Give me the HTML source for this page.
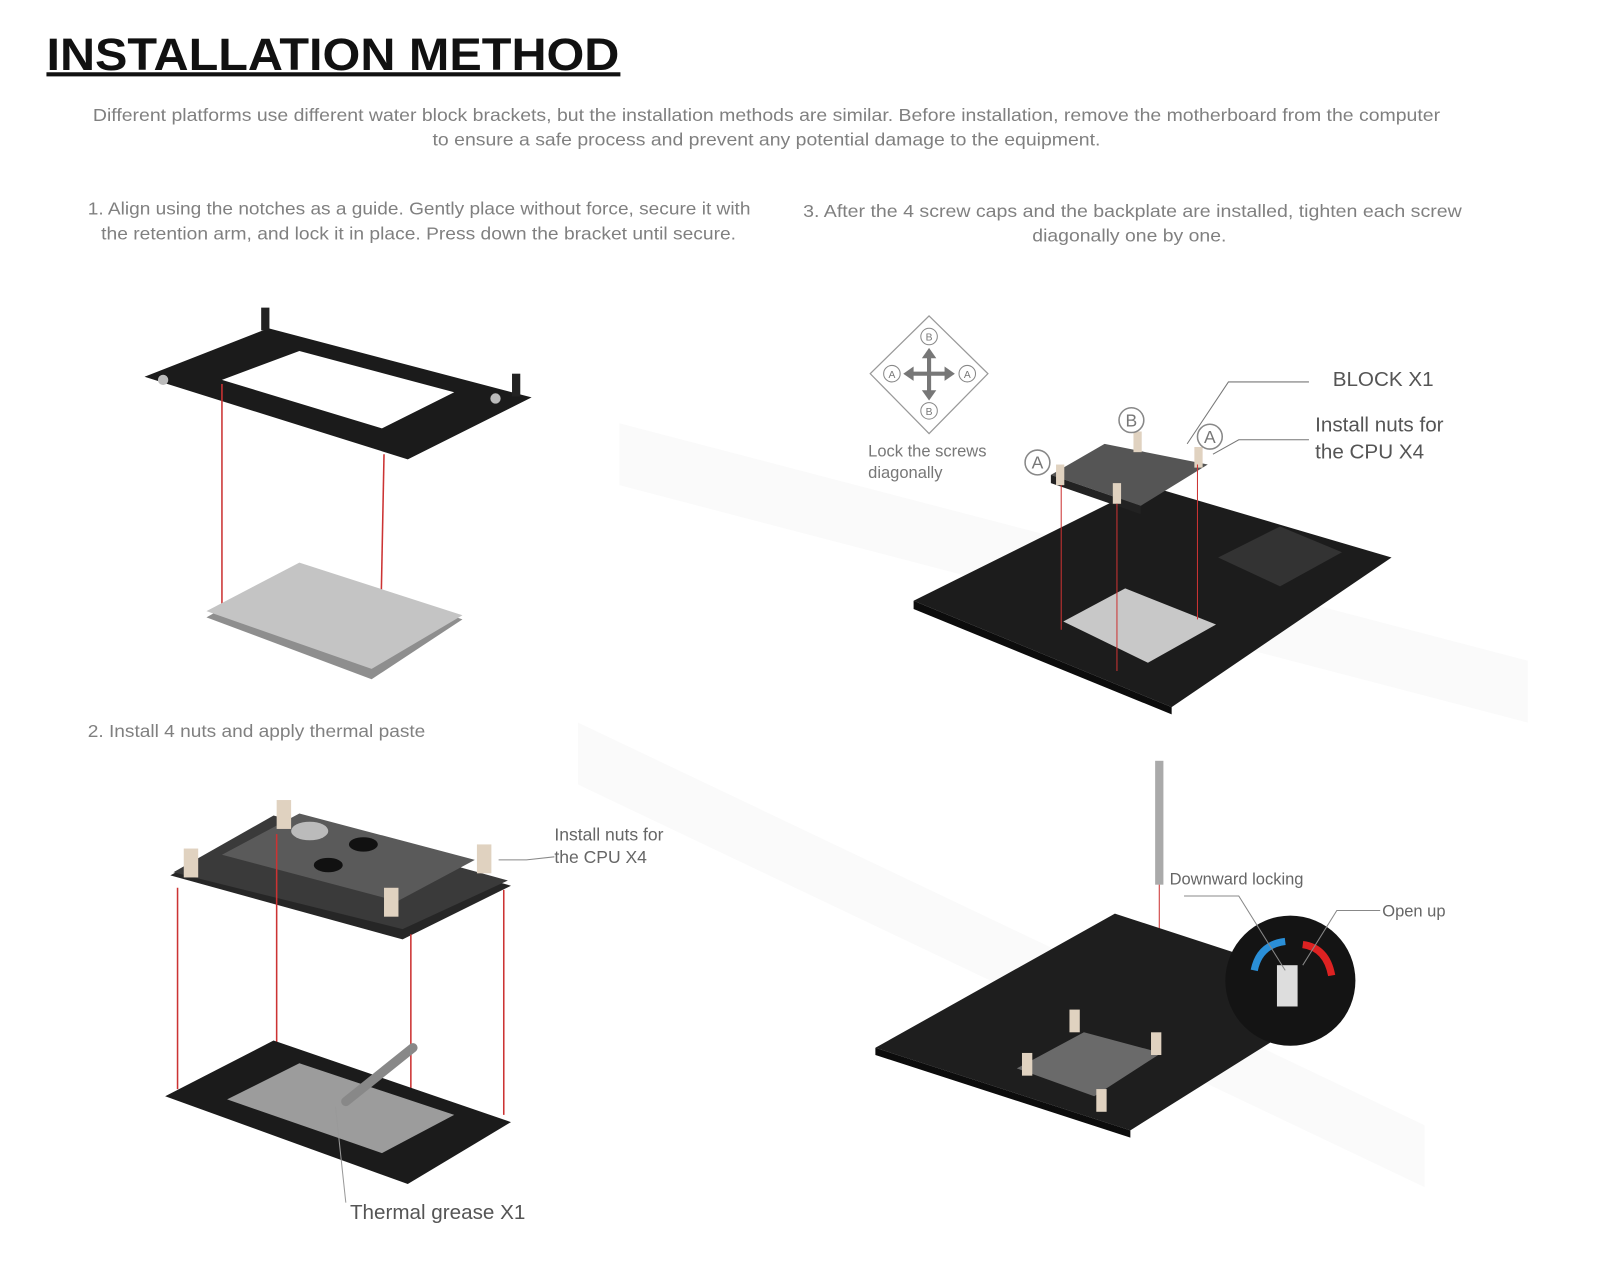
<!DOCTYPE html>
<html><head><meta charset="utf-8"><style>
html,body{margin:0;padding:0;background:#fff;width:1600px;height:1280px;overflow:hidden}
svg{display:block}
text{font-family:"Liberation Sans",sans-serif}
</style></head><body>
<svg width="1600" height="1280" viewBox="0 0 1600 1280">
<g transform="scale(1.0323)">
<!-- faint watermark -->
<g fill="#fafafa">
<polygon points="600,410 1480,640 1480,700 600,470"/>
<polygon points="560,700 1380,1090 1380,1150 560,760"/>
</g>
<!-- title -->
<text x="45" y="68" font-size="44" font-weight="bold" fill="#111" textLength="555" lengthAdjust="spacingAndGlyphs">INSTALLATION METHOD</text>
<rect x="45" y="70" width="556" height="4" fill="#111"/>
<g font-size="17" fill="#808080" lengthAdjust="spacingAndGlyphs">
<text x="90" y="117" textLength="1305" lengthAdjust="spacingAndGlyphs">Different platforms use different water block brackets, but the installation methods are similar. Before installation, remove the motherboard from the computer</text>
<text x="419" y="141" textLength="647" lengthAdjust="spacingAndGlyphs">to ensure a safe process and prevent any potential damage to the equipment.</text>
<text x="85" y="208" textLength="642" lengthAdjust="spacingAndGlyphs">1. Align using the notches as a guide. Gently place without force, secure it with</text>
<text x="98" y="232" textLength="615" lengthAdjust="spacingAndGlyphs">the retention arm, and lock it in place. Press down the bracket until secure.</text>
<text x="778" y="210" textLength="638" lengthAdjust="spacingAndGlyphs">3. After the 4 screw caps and the backplate are installed, tighten each screw</text>
<text x="1000" y="234" textLength="188" lengthAdjust="spacingAndGlyphs">diagonally one by one.</text>
<text x="85" y="714" textLength="327" lengthAdjust="spacingAndGlyphs">2. Install 4 nuts and apply thermal paste</text>
</g>

<!-- step1 bracket -->
<path d="M140,365 L260,318 L515,385 L395,445 Z M215,368 L290,340 L440,380 L370,415 Z" fill="#1b1b1b" fill-rule="evenodd"/>
<rect x="253" y="298" width="8" height="22" fill="#222"/>
<rect x="496" y="362" width="8" height="22" fill="#222"/>
<circle cx="158" cy="368" r="5" fill="#bbb"/><circle cx="480" cy="386" r="5" fill="#bbb"/>
<line x1="215" y1="372" x2="215" y2="600" stroke="#c33" stroke-width="1.5"/>
<line x1="372" y1="440" x2="368" y2="645" stroke="#c33" stroke-width="1.5"/>
<!-- cpu plate -->
<polygon points="200,598 290,547 448,600 360,658" fill="#8e8e8e"/>
<polygon points="200,592 290,545 448,596 360,648" fill="#c4c4c4"/>

<!-- step2 block -->
<polygon points="165,848 265,793 495,858 390,910" fill="#262626"/>
<polygon points="168,845 265,790 492,853 390,900" fill="#3a3a3a"/>
<polygon points="215,828 290,788 460,833 385,873" fill="#5a5a5a"/>
<ellipse cx="300" cy="805" rx="18" ry="9" fill="#bbb"/>
<ellipse cx="352" cy="818" rx="14" ry="7" fill="#111"/>
<ellipse cx="318" cy="838" rx="14" ry="7" fill="#111"/>
<g fill="#e0d2c0"><rect x="178" y="822" width="14" height="28"/><rect x="268" y="775" width="14" height="28"/><rect x="462" y="818" width="14" height="28"/><rect x="372" y="860" width="14" height="28"/></g>
<g stroke="#c33" stroke-width="1.5">
<line x1="172" y1="860" x2="172" y2="1055"/><line x1="268" y1="808" x2="268" y2="1010"/><line x1="398" y1="905" x2="398" y2="1140"/><line x1="488" y1="862" x2="488" y2="1080"/></g>
<polygon points="160,1062 265,1008 495,1087 395,1147" fill="#1b1b1b"/>
<polygon points="220,1065 290,1030 440,1080 370,1117" fill="#9c9c9c"/>
<line x1="400" y1="1015" x2="335" y2="1067" stroke="#888" stroke-width="9" stroke-linecap="round"/>
<line x1="325" y1="1072" x2="335" y2="1165" stroke="#999" stroke-width="1"/>
<text x="537" y="814" font-size="17" fill="#666">Install nuts for</text>
<text x="537" y="836" font-size="17" fill="#666">the CPU X4</text>
<polyline points="483,833 510,833 537,830" fill="none" stroke="#888"/>
<text x="339" y="1181" font-size="20" fill="#555">Thermal grease X1</text>

<!-- step3 -->
<polygon points="900,306 957,362 900,420 843,362" fill="none" stroke="#999" stroke-width="1.2"/>
<g fill="none" stroke="#888"><circle cx="900" cy="326" r="8"/><circle cx="900" cy="398" r="8"/><circle cx="864" cy="362" r="8"/><circle cx="937" cy="362" r="8"/></g>
<g font-size="10" fill="#777" text-anchor="middle"><text x="900" y="330">B</text><text x="900" y="402">B</text><text x="864" y="366">A</text><text x="937" y="366">A</text></g>
<g stroke="#777" stroke-width="4"><line x1="900" y1="345" x2="900" y2="380"/><line x1="882" y1="362" x2="918" y2="362"/></g>
<g fill="#777"><polygon points="900,337 893,347 907,347"/><polygon points="900,388 893,378 907,378"/><polygon points="875,362 885,355 885,369"/><polygon points="925,362 915,355 915,369"/></g>
<text x="841" y="442" font-size="16" fill="#777">Lock the screws</text>
<text x="841" y="463" font-size="16" fill="#777">diagonally</text>
<polygon points="885,582 1110,470 1348,540 1135,685" fill="#1c1c1c"/>
<polygon points="885,582 1135,685 1135,692 885,590" fill="#0c0c0c"/>
<polygon points="1030,602 1090,570 1178,605 1112,642" fill="#c8c8c8"/>
<polygon points="1180,540 1240,510 1300,535 1240,568" fill="#333"/>
<polygon points="1018,460 1070,430 1170,450 1105,490" fill="#555"/>
<polygon points="1018,460 1105,490 1105,498 1018,468" fill="#222"/>
<g fill="#e0d2c0"><rect x="1023" y="450" width="8" height="20"/><rect x="1098" y="418" width="8" height="20"/><rect x="1157" y="433" width="8" height="20"/><rect x="1078" y="468" width="8" height="20"/></g>
<g stroke="#c33" stroke-width="1"><line x1="1028" y1="470" x2="1028" y2="610"/><line x1="1082" y1="488" x2="1082" y2="650"/><line x1="1160" y1="450" x2="1160" y2="600"/></g>
<g fill="none" stroke="#888" stroke-width="1.5"><circle cx="1096" cy="407" r="12"/><circle cx="1172" cy="423" r="12"/><circle cx="1005" cy="448" r="12"/></g>
<g font-size="17" fill="#777" text-anchor="middle"><text x="1096" y="413">B</text><text x="1172" y="429">A</text><text x="1005" y="454">A</text></g>
<polyline points="1268,370 1190,370 1150,430" fill="none" stroke="#777"/>
<polyline points="1268,426 1200,426 1175,440" fill="none" stroke="#777"/>
<text x="1291" y="374" font-size="20" fill="#555">BLOCK X1</text>
<text x="1274" y="418" font-size="20" fill="#555">Install nuts for</text>
<text x="1274" y="444" font-size="20" fill="#555">the CPU X4</text>

<!-- step4 -->
<rect x="1119" y="737" width="8" height="120" fill="#aaa"/>
<line x1="1123" y1="857" x2="1123" y2="1000" stroke="#c33"/>
<polygon points="848,1015 1080,885 1310,960 1095,1095" fill="#1e1e1e"/>
<polygon points="848,1015 1095,1095 1095,1102 848,1022" fill="#0c0c0c"/>
<polygon points="985,1035 1050,1000 1125,1020 1060,1062" fill="#6a6a6a"/>
<g fill="#e0d2c0"><rect x="990" y="1020" width="10" height="22"/><rect x="1036" y="978" width="10" height="22"/><rect x="1115" y="1000" width="10" height="22"/><rect x="1062" y="1055" width="10" height="22"/></g>
<circle cx="1250" cy="950" r="63" fill="#141414"/>
<rect x="1237" y="935" width="20" height="40" fill="#ddd"/>
<path d="M1215,940 Q1220,915 1245,912" fill="none" stroke="#2a8fd8" stroke-width="7"/>
<path d="M1290,945 Q1285,918 1262,915" fill="none" stroke="#d22" stroke-width="7"/>
<polyline points="1147,868 1200,868 1245,940" fill="none" stroke="#888"/>
<polyline points="1337,882 1295,882 1262,935" fill="none" stroke="#888"/>
<text x="1133" y="857" font-size="16" fill="#666">Downward locking</text>
<text x="1339" y="888" font-size="16" fill="#666">Open up</text>
</g>
</svg>
</body></html>
